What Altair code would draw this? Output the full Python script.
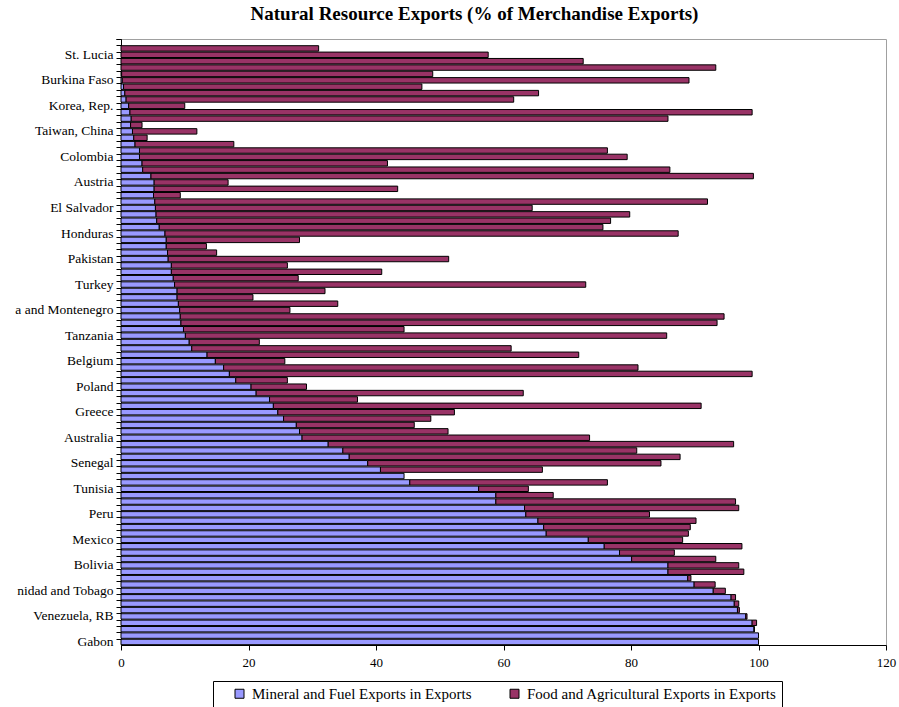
import altair as alt
import pandas as pd

# Row order from top (1) to bottom (94); only every 4th category is labelled on the axis
labeled_rows = [2, 6, 10, 14, 18, 22, 26, 30, 34, 38, 42, 46, 50, 54, 58, 62, 66, 70, 74, 78, 82, 86, 90, 94]
labeled_names = ["St. Lucia", "Burkina Faso", "Korea, Rep.", "Taiwan, China", "Colombia", "Austria",
                 "El Salvador", "Honduras", "Pakistan", "Turkey", "a and Montenegro", "Tanzania",
                 "Belgium", "Poland", "Greece", "Australia", "Senegal", "Tunisia", "Peru", "Mexico",
                 "Bolivia", "nidad and Tobago", "Venezuela, RB", "Gabon"]

mineral = [0, 0, 0, 0, 0.1, 0.2, 0.4, 0.6, 0.8, 1.2,
           1.4, 1.6, 1.5, 1.8, 2.0, 2.2, 2.9, 2.9, 3.3, 3.4,
           4.7, 5.2, 5.2, 5.1, 5.3, 5.4, 5.5, 5.6, 6.0, 6.9,
           7.1, 7.1, 7.3, 7.4, 7.9, 7.9, 8.2, 8.4, 8.8, 8.8,
           9.0, 9.2, 9.3, 9.4, 9.8, 10.1, 10.7, 11.1, 13.5, 14.8,
           16.1, 17.0, 18.0, 20.4, 21.2, 23.3, 23.9, 24.6, 25.5, 27.5,
           28.0, 28.4, 32.5, 34.8, 35.8, 38.7, 40.7, 44.4, 45.3, 56.1,
           58.8, 58.8, 63.3, 63.5, 65.4, 66.3, 66.7, 73.3, 75.8, 78.2,
           80.1, 85.8, 85.8, 88.9, 89.9, 92.9, 95.7, 96.2, 96.7, 98.0,
           99.0, 99.3, 100.0, 100.0]

food = [31.0, 57.6, 72.5, 93.3, 48.8, 88.9, 46.8, 64.9, 60.8, 8.8,
        97.6, 84.2, 1.8, 10.1, 2.1, 15.5, 73.4, 76.5, 38.5, 82.7,
        94.5, 11.6, 38.2, 4.2, 86.7, 59.1, 74.3, 71.2, 69.6, 80.5,
        20.9, 6.3, 7.7, 44.0, 18.2, 33.0, 19.6, 64.5, 23.2, 11.9,
        25.0, 17.3, 85.3, 84.1, 34.6, 75.5, 11.0, 50.1, 58.3, 10.9,
        65.0, 82.0, 8.1, 8.7, 41.9, 13.8, 67.1, 27.7, 23.1, 18.5,
        23.3, 45.1, 63.6, 46.1, 51.9, 46.0, 25.4, 0, 31.0, 7.8,
        9.0, 37.6, 33.6, 19.4, 24.8, 23.0, 22.3, 14.8, 21.6, 8.6,
        13.2, 11.1, 11.9, 0.5, 3.3, 1.9, 0.7, 0.7, 0.3, 0.2,
        0.7, 0.05, 0, 0]

series_names = ["Mineral and Fuel Exports in Exports", "Food and Agricultural Exports in Exports"]
series_colors = ["#9999FF", "#993366"]
x_ticks = [0, 20, 40, 60, 80, 100, 120]

n = len(mineral)
rows = []
for i in range(n):
    rows.append({"row": i + 1, "series": series_names[0], "order": 0, "value": mineral[i]})
    rows.append({"row": i + 1, "series": series_names[1], "order": 1, "value": food[i]})
df = pd.DataFrame(rows)

label_arr = [""] * (n + 1)
for r, name in zip(labeled_rows, labeled_names):
    label_arr[r] = name
label_js = "[" + ",".join("'" + s.replace("'", "\\'") + "'" for s in label_arr) + "]"

FONT = "Liberation Serif"

chart = alt.Chart(df).transform_filter("datum.value > 0").mark_bar(
    stroke="black", strokeWidth=1
).encode(
    x=alt.X("value:Q", stack="zero",
            scale=alt.Scale(domain=[0, 120], nice=False, zero=True),
            axis=alt.Axis(values=x_ticks, title=None, grid=False, domainColor="black",
                          tickColor="black", tickSize=5, labelFont=FONT, labelFontSize=13,
                          labelColor="black", labelPadding=6, labelFlush=False)),
    y=alt.Y("row:O",
            scale=alt.Scale(domain=list(range(0, n + 1)), paddingInner=0.15, paddingOuter=0.05),
            axis=alt.Axis(title=None, labelExpr=label_js + "[datum.value]", bandPosition=0,
                          tickExtra=True, grid=False, domainColor="black", tickColor="black",
                          tickSize=5, labelFont=FONT, labelFontSize=13.5, labelColor="black",
                          labelPadding=3, labelOverlap=False)),
    color=alt.Color("series:N",
                    scale=alt.Scale(domain=series_names, range=series_colors),
                    legend=alt.Legend(title=None, orient="none", legendX=92, legendY=642,
                                      direction="horizontal", symbolType="square",
                                      symbolSize=81, symbolStrokeColor="black",
                                      symbolStrokeWidth=1, symbolOffset=14, labelFont=FONT,
                                      labelFontSize=15, labelColor="black", labelOffset=5,
                                      strokeColor="black", fillColor="white",
                                      padding=5, columnPadding=21, labelLimit=400)),
    order=alt.Order("order:Q", sort="ascending"),
).properties(
    width=765, height=606,
    title=alt.TitleParams("Natural Resource Exports (% of Merchandise Exports)",
                          font=FONT, fontSize=19, fontWeight="bold", color="black",
                          anchor="middle", dx=-29, offset=8),
    autosize=alt.AutoSizeParams(type="none"),
    padding={"left": 121, "top": 39, "right": 13, "bottom": 62},
).configure_view(stroke="#a0a0a0", strokeWidth=1)

chart.save("out.html", embed_options={"renderer": "svg", "actions": False})
